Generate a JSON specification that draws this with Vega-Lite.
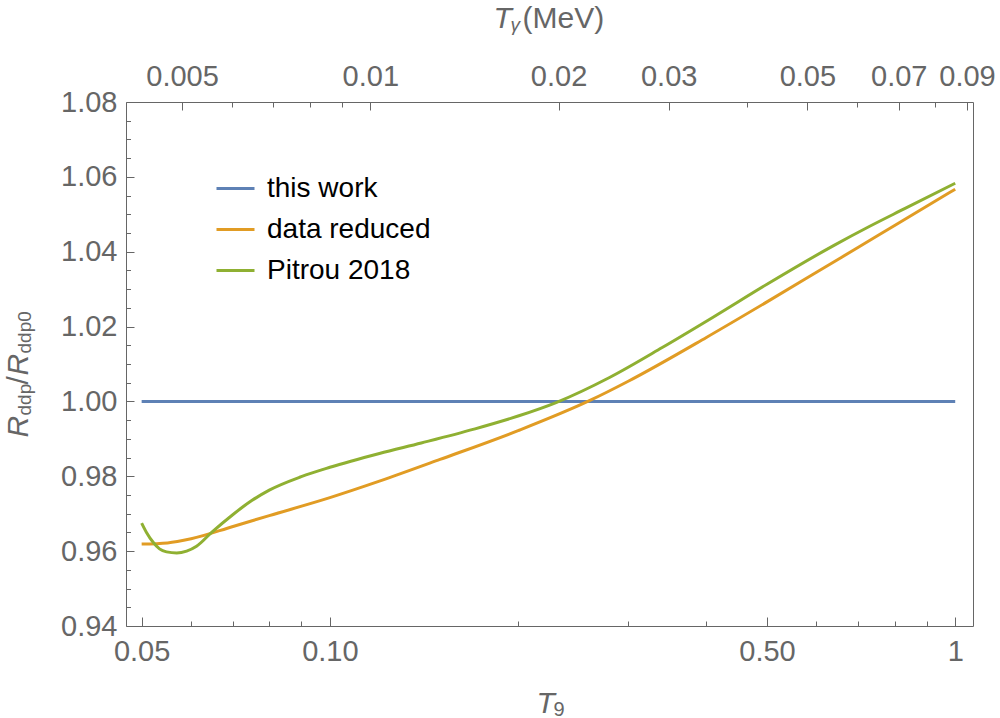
{
  "$schema": "https://vega.github.io/schema/vega-lite/v6.json",
  "description": "R_ddp / R_ddp0 against T9, with T_gamma (MeV) on top",
  "width": 847,
  "height": 524,
  "autosize": {"type": "none"},
  "padding": {"left": 126, "top": 102, "right": 27, "bottom": 92},
  "data": {
    "values": [
      {"T9": 0.05, "R": 1.0, "series": "this work"},
      {"T9": 1.0, "R": 1.0, "series": "this work"},

      {"T9": 0.05, "R": 0.9619, "series": "data reduced"},
      {"T9": 0.055, "R": 0.9622, "series": "data reduced"},
      {"T9": 0.06, "R": 0.9633, "series": "data reduced"},
      {"T9": 0.07, "R": 0.9666, "series": "data reduced"},
      {"T9": 0.08, "R": 0.9695, "series": "data reduced"},
      {"T9": 0.1, "R": 0.9743, "series": "data reduced"},
      {"T9": 0.12, "R": 0.9787, "series": "data reduced"},
      {"T9": 0.15, "R": 0.9845, "series": "data reduced"},
      {"T9": 0.2, "R": 0.9922, "series": "data reduced"},
      {"T9": 0.26, "R": 1.0002, "series": "data reduced"},
      {"T9": 0.3, "R": 1.0054, "series": "data reduced"},
      {"T9": 0.4, "R": 1.0171, "series": "data reduced"},
      {"T9": 0.5, "R": 1.0266, "series": "data reduced"},
      {"T9": 0.6, "R": 1.0345, "series": "data reduced"},
      {"T9": 0.7, "R": 1.0412, "series": "data reduced"},
      {"T9": 0.8, "R": 1.047, "series": "data reduced"},
      {"T9": 1.0, "R": 1.0567, "series": "data reduced"},

      {"T9": 0.05, "R": 0.9675, "series": "Pitrou 2018"},
      {"T9": 0.0509, "R": 0.965, "series": "Pitrou 2018"},
      {"T9": 0.0522, "R": 0.9623, "series": "Pitrou 2018"},
      {"T9": 0.0534, "R": 0.9606, "series": "Pitrou 2018"},
      {"T9": 0.0548, "R": 0.9598, "series": "Pitrou 2018"},
      {"T9": 0.0569, "R": 0.9595, "series": "Pitrou 2018"},
      {"T9": 0.059, "R": 0.96, "series": "Pitrou 2018"},
      {"T9": 0.0612, "R": 0.9613, "series": "Pitrou 2018"},
      {"T9": 0.0647, "R": 0.965, "series": "Pitrou 2018"},
      {"T9": 0.07, "R": 0.9698, "series": "Pitrou 2018"},
      {"T9": 0.075, "R": 0.9735, "series": "Pitrou 2018"},
      {"T9": 0.08, "R": 0.9763, "series": "Pitrou 2018"},
      {"T9": 0.09, "R": 0.9799, "series": "Pitrou 2018"},
      {"T9": 0.1, "R": 0.9824, "series": "Pitrou 2018"},
      {"T9": 0.12, "R": 0.9861, "series": "Pitrou 2018"},
      {"T9": 0.14, "R": 0.9889, "series": "Pitrou 2018"},
      {"T9": 0.17, "R": 0.9926, "series": "Pitrou 2018"},
      {"T9": 0.2, "R": 0.9961, "series": "Pitrou 2018"},
      {"T9": 0.23, "R": 0.9997, "series": "Pitrou 2018"},
      {"T9": 0.28, "R": 1.0064, "series": "Pitrou 2018"},
      {"T9": 0.34, "R": 1.0144, "series": "Pitrou 2018"},
      {"T9": 0.41, "R": 1.0225, "series": "Pitrou 2018"},
      {"T9": 0.5, "R": 1.0313, "series": "Pitrou 2018"},
      {"T9": 0.64, "R": 1.0417, "series": "Pitrou 2018"},
      {"T9": 0.73, "R": 1.0468, "series": "Pitrou 2018"},
      {"T9": 0.83, "R": 1.0515, "series": "Pitrou 2018"},
      {"T9": 1.0, "R": 1.0583, "series": "Pitrou 2018"}
    ]
  },
  "layer": [
    {
      "mark": {"type": "line", "strokeWidth": 3, "interpolate": "monotone", "clip": true},
      "encoding": {
        "x": {
          "field": "T9",
          "type": "quantitative",
          "scale": {"type": "log", "domain": [0.0472, 1.0677], "nice": false},
          "axis": {
            "orient": "bottom",
            "values": [0.05, 0.1, 0.5, 1],
            "labelExpr": "datum.value == 1 ? '1' : format(datum.value, '.2f')",
            "tickSize": -9,
            "labelPadding": 20,
            "title": "T",
            "titleFontStyle": "italic",
            "titleFontSize": 30,
            "titleX": 410,
            "titleY": 86,
            "titleAlign": "left",
            "titleBaseline": "alphabetic"
          }
        },
        "y": {
          "field": "R",
          "type": "quantitative",
          "scale": {"domain": [0.94, 1.08], "nice": false, "zero": false},
          "axis": {
            "orient": "left",
            "values": [0.94, 0.96, 0.98, 1.0, 1.02, 1.04, 1.06, 1.08],
            "format": ".2f",
            "tickSize": -8,
            "labelPadding": 17,
            "title": "R",
            "titleFontStyle": "italic",
            "titleFontSize": 30,
            "titleAngle": 270,
            "titleX": -99,
            "titleY": 335,
            "titleAlign": "left",
            "titleBaseline": "alphabetic"
          }
        },
        "color": {
          "field": "series",
          "type": "nominal",
          "scale": {
            "domain": ["this work", "data reduced", "Pitrou 2018"],
            "range": ["#5E81B5", "#E19C24", "#8FB032"]
          },
          "legend": {
            "orient": "none",
            "legendX": 89,
            "legendY": 66,
            "title": null,
            "symbolType": "stroke",
            "symbolSize": 1444,
            "symbolStrokeWidth": 3,
            "labelFont": "Liberation Sans",
            "labelFontSize": 28,
            "labelColor": "#000000",
            "labelLimit": 400,
            "labelOffset": 11,
            "rowPadding": 6,
            "padding": 0
          }
        }
      }
    },
    {
      "mark": {"type": "line", "strokeOpacity": 0},
      "encoding": {
        "x": {
          "field": "T9",
          "type": "quantitative",
          "axis": {
            "orient": "bottom",
            "values": [0.06, 0.07, 0.08, 0.09, 0.2, 0.3, 0.4, 0.6, 0.7, 0.8, 0.9],
            "tickSize": -5,
            "labels": false,
            "title": "9",
            "titleFontSize": 20,
            "titleX": 427,
            "titleY": 89,
            "titleAlign": "left",
            "titleBaseline": "alphabetic"
          }
        },
        "y": {
          "field": "R",
          "type": "quantitative",
          "axis": {
            "orient": "left",
            "values": [0.945, 0.95, 0.955, 0.965, 0.97, 0.975, 0.985, 0.99, 0.995, 1.005, 1.01, 1.015, 1.025, 1.03, 1.035, 1.045, 1.05, 1.055, 1.065, 1.07, 1.075],
            "tickSize": -4.5,
            "labels": false,
            "title": "ddp",
            "titleFontSize": 19,
            "titleAngle": 270,
            "titleX": -96,
            "titleY": 313,
            "titleAlign": "left",
            "titleBaseline": "alphabetic"
          }
        }
      }
    },
    {
      "mark": {"type": "line", "strokeOpacity": 0},
      "encoding": {
        "x": {
          "field": "T9",
          "type": "quantitative",
          "axis": {
            "orient": "top",
            "values": [0.058025, 0.11605, 0.232099, 0.348149, 0.580248, 0.812348, 1.044447],
            "labelExpr": "format(datum.value * 0.08617, '.3~f')",
            "tickSize": -8,
            "labelPadding": 19,
            "title": "T",
            "titleFontStyle": "italic",
            "titleFontSize": 30,
            "titleX": 367,
            "titleY": -75,
            "titleAlign": "left",
            "titleBaseline": "alphabetic"
          }
        },
        "y": {
          "field": "R",
          "type": "quantitative",
          "axis": {
            "orient": "left",
            "ticks": false,
            "labels": false,
            "title": "/",
            "titleFontSize": 30,
            "titleAngle": 270,
            "titleX": -99,
            "titleY": 282,
            "titleAlign": "left",
            "titleBaseline": "alphabetic"
          }
        }
      }
    },
    {
      "mark": {"type": "line", "strokeOpacity": 0},
      "encoding": {
        "x": {
          "field": "T9",
          "type": "quantitative",
          "axis": {
            "orient": "top",
            "values": [0.06963, 0.081235, 0.09284, 0.104445, 0.464199, 0.696298, 0.928397],
            "tickSize": -5,
            "labels": false,
            "title": "γ",
            "titleFontStyle": "italic",
            "titleFontSize": 19,
            "titleX": 384,
            "titleY": -72,
            "titleAlign": "left",
            "titleBaseline": "alphabetic"
          }
        },
        "y": {
          "field": "R",
          "type": "quantitative",
          "axis": {
            "orient": "left",
            "ticks": false,
            "labels": false,
            "title": "R",
            "titleFontStyle": "italic",
            "titleFontSize": 30,
            "titleAngle": 270,
            "titleX": -99,
            "titleY": 273,
            "titleAlign": "left",
            "titleBaseline": "alphabetic"
          }
        }
      }
    },
    {
      "mark": {"type": "line", "strokeOpacity": 0},
      "encoding": {
        "x": {
          "field": "T9",
          "type": "quantitative",
          "axis": {
            "orient": "top",
            "ticks": false,
            "labels": false,
            "title": "(MeV)",
            "titleFontSize": 30,
            "titleX": 396,
            "titleY": -75,
            "titleAlign": "left",
            "titleBaseline": "alphabetic"
          }
        },
        "y": {
          "field": "R",
          "type": "quantitative",
          "axis": {
            "orient": "left",
            "ticks": false,
            "labels": false,
            "title": "ddp0",
            "titleFontSize": 19,
            "titleAngle": 270,
            "titleX": -96,
            "titleY": 251,
            "titleAlign": "left",
            "titleBaseline": "alphabetic"
          }
        }
      }
    }
  ],
  "resolve": {"axis": {"x": "independent", "y": "independent"}},
  "config": {
    "font": "Liberation Sans",
    "view": {"stroke": "#666666", "strokeWidth": 1},
    "axis": {
      "domain": false,
      "grid": false,
      "labelFont": "Liberation Sans",
      "labelFontSize": 29,
      "labelColor": "#666666",
      "tickColor": "#666666",
      "tickWidth": 1,
      "labelOverlap": false,
      "labelFlush": false,
      "labelBound": false,
      "titleFont": "Liberation Sans",
      "titleColor": "#666666",
      "titleFontWeight": "normal"
    }
  }
}
